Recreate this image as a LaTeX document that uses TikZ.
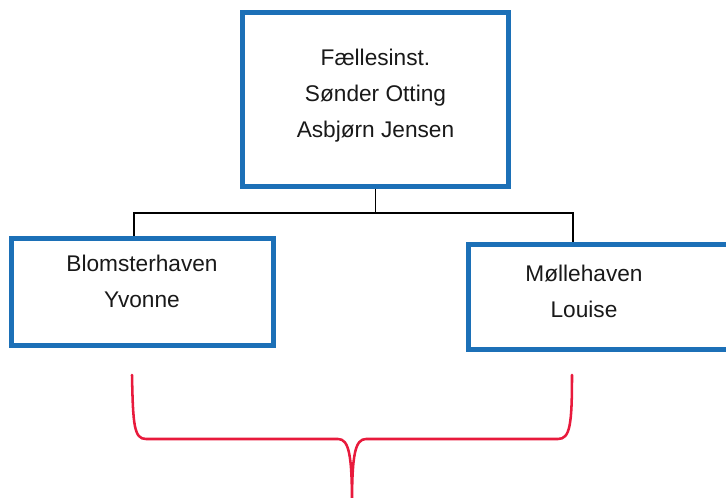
\documentclass[tikz,border=0pt]{standalone}
\usepackage{fontspec}
\setmainfont{Liberation Sans}
\usepackage{tikz}
\usetikzlibrary{calc}
\definecolor{boxblue}{RGB}{28,112,183}
\definecolor{bracered}{RGB}{232,26,60}

\begin{document}
\begin{tikzpicture}[x=0.75pt,y=-0.75pt]
\tikzstyle{box}=[draw=boxblue,line width=3.75pt,inner sep=0pt,fill=white]
\tikzstyle{txt}=[align=center,inner sep=0pt,text=black!90,font=\fontsize{17}{27}\selectfont]
\tikzstyle{conn}=[draw=black,line width=1.1pt]
\tikzstyle{brace}=[draw=bracered,line width=1.9pt,line cap=round,line join=round]

\useasboundingbox (0,0) rectangle (726,498);

\node[box,minimum width=199.5pt,minimum height=130.5pt] (top) at (375.5,99.5) {};
\node[box,minimum width=196.5pt,minimum height=79.9pt] (blom) at (142,292) {};
\node[box,minimum width=219pt,minimum height=78.75pt] (moelle) at (614,297.5) {};

\node[txt] (toptxt) at (375.5,96) {Fællesinst.\\Sønder Otting\\Asbjørn Jensen};
\node[txt] (blomtxt) at (142,281) {Blomsterhaven\\Yvonne};
\node[txt] (moelletxt) at (584,291.5) {Møllehaven\\Louise};

% fork under the top box
\coordinate (fork) at (375.5,213);
\draw[conn] (top.south) -- (fork);
\draw[conn] ([xshift=-6pt]blom.north) |- (fork) -| ([xshift=-30.75pt]moelle.north);

% red brace under the two boxes
\coordinate (bl) at (132,375);
\coordinate (br) at (572,375);
\coordinate (tip) at (352,505);
\draw[brace] (bl) .. controls (133,425) and (134,439) .. (146,439) -- (338,439)
  .. controls (349,439) and (352,455) .. (tip)
  .. controls (352,455) and (355,439) .. (366,439) -- (558,439)
  .. controls (570,439) and (572,425) .. (br);
\end{tikzpicture}
\end{document}
